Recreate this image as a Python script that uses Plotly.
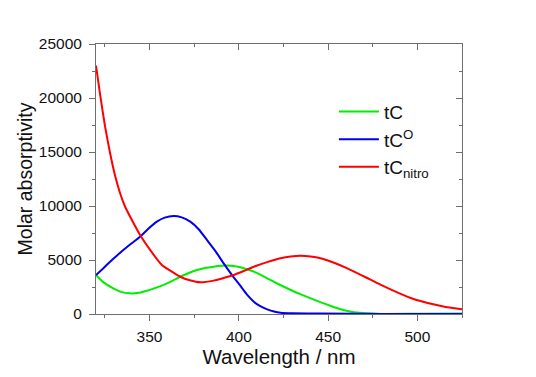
import plotly.graph_objects as go

# tC (green)
wl_tc = [320, 324, 329.7, 334, 339.1, 343.8, 348.5, 353, 357.8, 362.5, 367.2, 372, 376.6, 381, 385.9, 390, 393.4, 397, 400.9, 404.5, 408.4, 412, 415.9, 422, 429.1, 434.7, 440.3, 446, 451.6, 457, 462.8, 467.5, 472.2, 480, 500, 525]
ab_tc = [3610, 2950, 2380, 2050, 1910, 1960, 2160, 2400, 2690, 3050, 3450, 3800, 4070, 4250, 4380, 4460, 4490, 4450, 4320, 4140, 3920, 3640, 3300, 2780, 2220, 1820, 1450, 1080, 740, 440, 200, 110, 60, 0, 20, 40]

# tC^O (blue)
wl_tco = [320, 324, 327.9, 331.5, 335.3, 340, 344.7, 349, 354.1, 358.5, 363.4, 368, 372.8, 377.5, 382.2, 387, 391.5, 396, 400.9, 404.6, 408.4, 412, 415.9, 419.7, 423.4, 430, 445.8, 479.6, 525]
ab_tco = [3610, 4220, 4840, 5380, 5930, 6550, 7160, 7850, 8550, 8920, 9070, 8950, 8550, 7850, 6850, 5800, 4690, 3650, 2600, 1800, 1140, 720, 430, 230, 120, 70, 50, 0, 0]

# tC_nitro (red)
wl_tcn = [320, 322.2, 325.1, 327.9, 330.7, 333.5, 336.3, 340.1, 344.7, 350.3, 356.9, 361.6, 367.2, 372.5, 378.4, 385.9, 391.5, 397.1, 402.7, 408.4, 415.9, 423.4, 429, 434.6, 440.2, 445.8, 453.3, 460.8, 470.2, 479.6, 489, 498.3, 505.8, 513.3, 519, 525]
ab_tcn = [23000, 20430, 17340, 14880, 12800, 11180, 9930, 8700, 7310, 5930, 4540, 4010, 3450, 3120, 2930, 3090, 3330, 3610, 3980, 4380, 4800, 5160, 5330, 5400, 5330, 5160, 4750, 4230, 3470, 2690, 1980, 1360, 1020, 740, 570, 430]

names = ["tC", "tC<sup>O</sup>", "tC<sub>nitro</sub>"]
colors = ["#00ee00", "#0000ee", "#ff0000"]

x_ticks = [350, 400, 450, 500]
y_ticks = [0, 5000, 10000, 15000, 20000, 25000]
y_tick_labels = ["0", "5000", "10000", "15000", "20000", "25000"]

fig = go.Figure()
for wl, ab, nm, c in zip([wl_tc, wl_tco, wl_tcn], [ab_tc, ab_tco, ab_tcn], names, colors):
    fig.add_trace(go.Scatter(x=wl, y=ab, mode="lines", name=nm,
                             line=dict(color=c, width=2, shape="spline", smoothing=0.5)))

# helper trace for mirrored (inside-tick) axes
fig.add_trace(go.Scatter(x=[None], y=[None], xaxis="x2", yaxis="y2", showlegend=False, hoverinfo="skip"))

axcol = "#6e6e6e"
font = "Liberation Sans, Arial, sans-serif"
fig.update_layout(
    width=536, height=377,
    margin=dict(l=88, r=82, t=36, b=71),
    paper_bgcolor="white", plot_bgcolor="white",
    font=dict(family=font, color="#111", size=15.5),
    xaxis=dict(range=[320, 525], tickvals=x_ticks, ticks="outside", ticklen=6, tickcolor=axcol,
               showline=True, linecolor=axcol, linewidth=1, showgrid=False, zeroline=False,
               automargin=False, ticklabelstandoff=2,
               minor=dict(dtick=25, tick0=325, ticks="outside", ticklen=3, tickcolor=axcol),
               title=dict(text="Wavelength / nm", font=dict(size=20.5), standoff=0)),
    yaxis=dict(range=[0, 25000], tickvals=y_ticks, ticktext=y_tick_labels, ticks="outside", ticklen=6,
               tickcolor=axcol, showline=True, linecolor=axcol, linewidth=1, showgrid=False, zeroline=False,
               automargin=False, ticklabelstandoff=4,
               minor=dict(dtick=2500, tick0=0, ticks="outside", ticklen=3, tickcolor=axcol),
               title=dict(text="Molar absorptivity", font=dict(size=19.5), standoff=0)),
    xaxis2=dict(range=[320, 525], overlaying="x", side="top", tickvals=x_ticks, ticks="inside", ticklen=6,
                tickcolor=axcol, showticklabels=False, showline=True, linecolor=axcol, linewidth=1,
                showgrid=False, zeroline=False, automargin=False,
                minor=dict(dtick=25, tick0=325, ticks="inside", ticklen=3, tickcolor=axcol)),
    yaxis2=dict(range=[0, 25000], overlaying="y", side="right", tickvals=y_ticks, ticks="inside", ticklen=6,
                tickcolor=axcol, showticklabels=False, showline=True, linecolor=axcol, linewidth=1,
                showgrid=False, zeroline=False, automargin=False,
                minor=dict(dtick=2500, tick0=0, ticks="inside", ticklen=3, tickcolor=axcol)),
    legend=dict(x=0.65, y=0.82, xanchor="left", yanchor="top", bgcolor="rgba(0,0,0,0)",
                font=dict(size=19, color="#111"), itemwidth=40, tracegroupgap=0),
    showlegend=True,
)

fig.write_html("out.html")
